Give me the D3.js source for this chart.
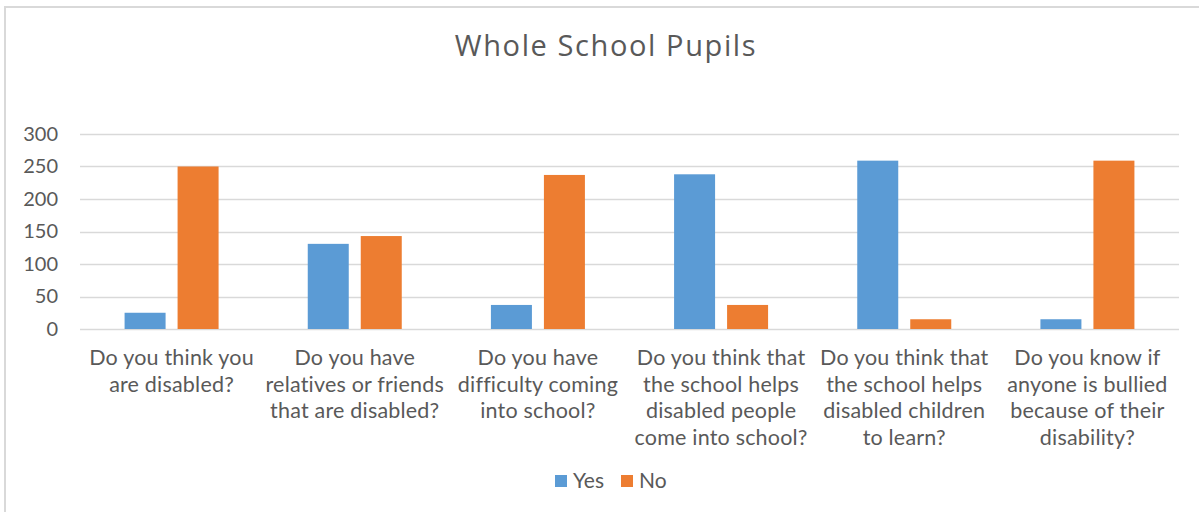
<!DOCTYPE html>
<html>
<head>
<meta charset="utf-8">
<script src="https://cdn.jsdelivr.net/npm/d3@7"></script>
<style>
  html, body { margin: 0; padding: 0; background: #fff; }
  svg { display: block; }
</style>
</head>
<body>
<svg id="chart" width="1199" height="512"></svg>
<script>
// Survey questions (x categories), one label line per array entry
const categories = [
  ["Do you think you", "are disabled?"],
  ["Do you have", "relatives or friends", "that are disabled?"],
  ["Do you have", "difficulty coming", "into school?"],
  ["Do you think that", "the school helps", "disabled people", "come into school?"],
  ["Do you think that", "the school helps", "disabled children", "to learn?"],
  ["Do you know if", "anyone is bullied", "because of their", "disability?"]
];
const seriesNames = ["Yes", "No"];
const yesValues = [25, 131, 37, 238, 259, 15];
const noValues = [250, 143, 237, 37, 15, 259];
const yTicks = [0, 50, 100, 150, 200, 250, 300];
const titleText = "Whole School Pupils";

const colors = { Yes: "#5b9bd5", No: "#ed7d31" };
const textColor = "#595959";
const labelFont = "Lato, 'Liberation Sans', sans-serif";

const svg = d3.select("#chart");
const W = 1199, H = 512;
const margin = { top: 134, right: 20, bottom: 183, left: 80 };
const plotW = W - margin.left - margin.right;
const plotH = H - margin.top - margin.bottom;

// Outer chart frame (top and left edges visible)
svg.append("line").attr("x1", 5).attr("x2", W).attr("y1", 7).attr("y2", 7)
  .attr("stroke", "#d9d9d9").attr("stroke-width", 2);
svg.append("line").attr("x1", 5).attr("x2", 5).attr("y1", 6).attr("y2", H)
  .attr("stroke", "#d9d9d9").attr("stroke-width", 2);

const g = svg.append("g").attr("transform", `translate(${margin.left},${margin.top})`);

const x0 = d3.scaleBand().domain(d3.range(categories.length)).range([0, plotW]);
const y = d3.scaleLinear().domain([0, 300]).range([plotH, 0]);

// Horizontal gridlines
g.append("g").selectAll("line").data(yTicks).join("line")
  .attr("x1", 0).attr("x2", plotW)
  .attr("y1", d => Math.round(y(d)) + 0.5).attr("y2", d => Math.round(y(d)) + 0.5)
  .attr("stroke", "#d9d9d9").attr("stroke-width", 1.5);

// Y axis tick labels
const yAxis = d3.axisLeft(y).tickValues(yTicks).tickSize(0).tickPadding(22);
const yg = g.append("g").call(yAxis);
yg.select(".domain").remove();
yg.selectAll("text")
  .attr("fill", textColor)
  .style("font-family", labelFont)
  .style("font-size", "20px");

// Bars: two per category, set apart by a small gap
const bw = 41, gap = 12;
const rows = categories.map((c, i) => ({ i, Yes: yesValues[i], No: noValues[i] }));
const x1 = d3.scaleOrdinal().domain(seriesNames)
  .range([-(bw + gap / 2), gap / 2]);

const groups = g.append("g").selectAll("g").data(rows).join("g")
  .attr("transform", d => `translate(${x0(d.i) + x0.bandwidth() / 2},0)`);
groups.selectAll("rect")
  .data(d => seriesNames.map(s => ({ s, v: d[s] })))
  .join("rect")
  .attr("x", d => x1(d.s))
  .attr("width", bw)
  .attr("y", d => y(d.v))
  .attr("height", d => y(0) - y(d.v))
  .attr("fill", d => colors[d.s]);

// Category labels (multi-line, centred under each group)
const xg = g.append("g").attr("transform", `translate(0,${plotH})`);
xg.selectAll("text").data(categories).join("text")
  .attr("x", (d, i) => x0(i) + x0.bandwidth() / 2)
  .attr("y", 36)
  .attr("text-anchor", "middle")
  .attr("fill", textColor)
  .style("font-family", labelFont)
  .style("font-size", "21.5px")
  .style("letter-spacing", "0.2px")
  .each(function(lines) {
    const t = d3.select(this);
    lines.forEach((ln, k) => {
      t.append("tspan")
        .attr("x", t.attr("x"))
        .attr("dy", k === 0 ? 0 : 26.5)
        .text(ln);
    });
  });

// Title
svg.append("text")
  .attr("x", 606).attr("y", 56)
  .attr("text-anchor", "middle")
  .attr("fill", textColor)
  .style("font-family", "'Open Sans', sans-serif")
  .style("font-size", "29px")
  .style("letter-spacing", "1.6px")
  .text(titleText);

// Legend
const legend = svg.append("g").attr("transform", "translate(555,475)");
const legendX = { Yes: 0, No: 66 };
seriesNames.forEach(s => {
  const lg = legend.append("g").attr("transform", `translate(${legendX[s]},0)`);
  lg.append("rect").attr("width", 12).attr("height", 12).attr("fill", colors[s]);
  lg.append("text").attr("x", 18).attr("y", 13)
    .attr("fill", textColor)
    .style("font-family", labelFont)
    .style("font-size", "21px")
    .text(s);
});
</script>
</body>
</html>
